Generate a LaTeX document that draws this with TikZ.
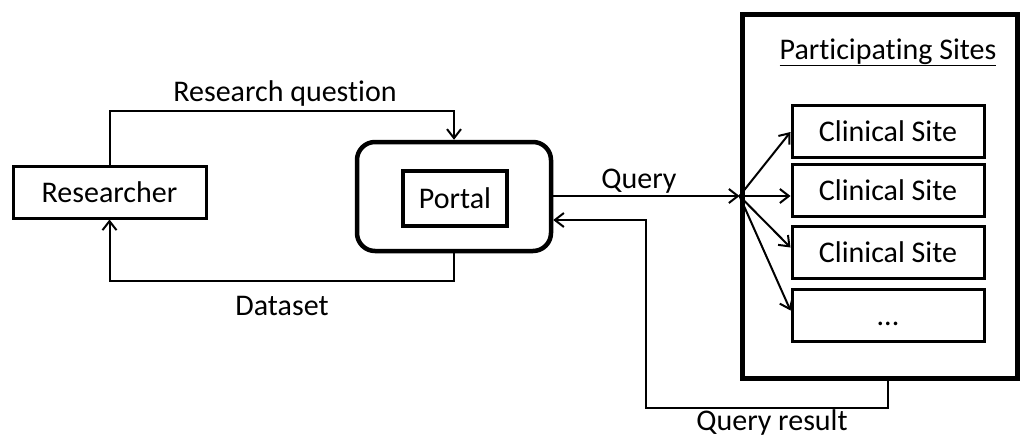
\documentclass[tikz,border=0pt]{standalone}
\usepackage{fontspec}
\setmainfont{Carlito}[Ligatures={NoCommon}]
\usetikzlibrary{arrows.meta,calc}
\begin{document}
\begin{tikzpicture}[x=1pt,y=-1pt,
  font=\fontsize{30}{36}\selectfont,
  box/.style={draw,line width=3pt,inner sep=0pt,minimum width=#1},
  sitebox/.style={draw,line width=3pt,inner sep=0pt,minimum width=192pt,minimum height=52pt},
  conn/.style={line width=2pt,-{Straight Barb[length=9pt,width=14pt,line width=2pt]}},
  lbl/.style={anchor=base,inner sep=0pt}]
\useasboundingbox (0,0) rectangle (1021,437);

% actors
\node[box=193pt,minimum height=52pt] (res) at (109.5,192) {Researcher};
\node[draw,line width=4.5pt,rounded corners=18pt,minimum width=194pt,minimum height=109pt] (portal) at (454,196.5) {};
\node[draw,line width=4.5pt,inner sep=0pt,minimum width=104pt,minimum height=55pt] (portalin) at (455,198.5) {Portal};

% participating sites container
\node[draw,line width=5pt,minimum width=275pt,minimum height=364pt] (sites) at (879.5,196) {};
\node[lbl] (sitestitle) at (888,59) {\underline{Participating Sites}};
\node[sitebox] (c1) at (888,131) {Clinical Site};
\node[sitebox] (c2) at (888,190.5) {Clinical Site};
\node[sitebox] (c3) at (888,252.5) {Clinical Site};
\node[sitebox] (c4) at (888,315.5) {\vphantom{Clinical Site}...};

% researcher <-> portal
\draw[conn] (res.north) -- ++(0,-54) -| (portal.north);
\draw[conn] (portal.south) -- ++(0,28) -| (res.south);
\node[lbl] (rq) at (285,101) {Research question};
\node[lbl] (ds) at (282,315) {Dataset};

% query fan-out
\draw[conn] (portal.east |- sites.west) -- (sites.west);
\node[lbl] (q) at (639,188) {Query};
\draw[conn] (sites.west) -- ($(c1.west)+(0,1)$);
\draw[conn] (sites.west) -- (c2.west |- sites.west);
\draw[conn] (sites.west) -- ($(c3.west)+(0,-5)$);
\draw[conn] (sites.west) -- ($(c4.west)+(0,-5)$);

% query result back to portal
\coordinate (qrcorner) at (646,408);
\draw[conn] (c4.south |- sites.south) |- (qrcorner) |- ($(portal.east)+(0,23.5)$);
\node[lbl] (qr) at (772,430) {Query result};
\end{tikzpicture}
\end{document}
